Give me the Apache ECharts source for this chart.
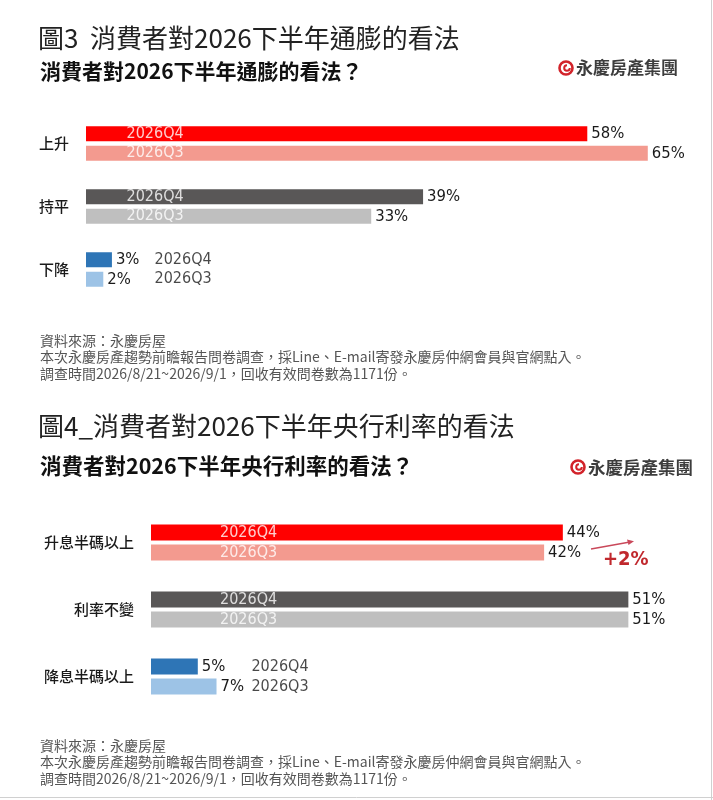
<!DOCTYPE html>
<html>
<head>
<meta charset="utf-8">
<script src="https://cdn.jsdelivr.net/npm/echarts@6/dist/echarts.min.js"></script>
<style>
html,body{margin:0;padding:0;background:#fff;}
#chart{width:713px;height:800px;}
</style>
</head>
<body>
<div id="chart"></div>
<script>
// ---- data ----
const categories1 = ['上升', '持平', '下降'];
const q4Values1 = [58, 39, 3];
const q3Values1 = [65, 33, 2];

const categories2 = ['升息半碼以上', '利率不變', '降息半碼以上'];
const q4Values2 = [44, 51, 5];
const q3Values2 = [42, 51, 7];

const quarterNames = ['2026Q4', '2026Q3'];

const title1 = '圖3  消費者對2026下半年通膨的看法';
const subtitle1 = '消費者對2026下半年通膨的看法？';
const title2 = '圖4_消費者對2026下半年央行利率的看法';
const subtitle2 = '消費者對2026下半年央行利率的看法？';
const logoText = '永慶房產集團';
const footnotes = [
  '資料來源：永慶房屋',
  '本次永慶房產趨勢前瞻報告問卷調查，採Line、E-mail寄發永慶房仲網會員與官網點入。',
  '調查時間2026/8/21~2026/9/1，回收有效問卷數為1171份。'
];
const changeNote = '+2%';

// ---- styles ----
const NUM_FONT = "'Liberation Sans Narrow', 'DejaVu Sans Condensed', 'Noto Sans CJK TC', sans-serif";
const CJK_FONT = "'Noto Sans CJK TC', sans-serif";
const q4Colors = ['#ff0000', '#595757', '#2e75b6'];
const q3Colors = ['#f39a8f', '#bfbfbf', '#9dc3e6'];

const chart = echarts.init(document.getElementById('chart'), null, {renderer: 'canvas'});

const grids = [
  {left: 86, top: 112, width: 605, height: 189},
  {left: 151, top: 509, width: 561.6, height: 201}
];
const axisMax = [70, 60];
const barW = [15, 16];
const barGap = ['30%', '25%'];
const qLabelX = [[4.63, 7.87], [7.32, 10.68]]; // [inside, outside] in axis units

function buildSeries(gi, cats, q4, q3) {
  const out = [];
  const sets = [q4, q3];
  const palettes = [q4Colors, q3Colors];
  const half = (barW[gi] * (1 + parseFloat(barGap[gi]) / 100)) / 2;
  sets.forEach((vals, si) => {
    out.push({
      type: 'bar',
      name: quarterNames[si],
      xAxisIndex: gi, yAxisIndex: gi,
      barWidth: barW[gi],
      barGap: barGap[gi],
      silent: true,
      data: vals.map((v, i) => ({value: v, itemStyle: {color: palettes[si][i]}})),
      label: {
        show: true, position: 'right', distance: 4,
        formatter: '{c}%',
        fontFamily: NUM_FONT, fontSize: 16.5, color: '#1a1a1a'
      }
    });
  });
  sets.forEach((vals, si) => {
    out.push({
      type: 'scatter',
      xAxisIndex: gi, yAxisIndex: gi,
      symbolSize: 1,
      silent: true,
      z: 10,
      itemStyle: {color: 'rgba(0,0,0,0)'},
      data: cats.map((c, i) => ({
        value: [i < 2 ? qLabelX[gi][0] : qLabelX[gi][1], i],
        label: {color: i < 2 ? '#ffffff' : '#1a1a1a'}
      })),
      label: {
        show: true, position: 'right', distance: 0,
        align: 'left', verticalAlign: 'middle',
        offset: [0, si === 0 ? -half : half],
        formatter: quarterNames[si],
        fontFamily: NUM_FONT, fontSize: 16
      }
    });
  });
  return out;
}

const xAxes = grids.map((g, gi) => ({
  gridIndex: gi, type: 'value', min: 0, max: axisMax[gi],
  show: false, splitLine: {show: false}
}));
const yAxes = [categories1, categories2].map((cats, gi) => ({
  gridIndex: gi, type: 'category', data: cats, inverse: true,
  axisLine: {show: false}, axisTick: {show: false},
  axisLabel: {margin: 17, fontFamily: CJK_FONT, fontSize: 15, color: '#1a1a1a', fontWeight: 500}
}));

function logo(x, y, size) {
  return [
    {type: 'circle', shape: {cx: x, cy: y, r: 6.5}, style: {fill: 'none', stroke: '#d2232a', lineWidth: 2.6}},
    {type: 'arc', shape: {cx: x + 1, cy: y, r: 2.8, startAngle: 0, endAngle: Math.PI * 1.5}, style: {fill: 'none', stroke: '#d2232a', lineWidth: 2}},
    {type: 'text', style: {x: x + 10, y: y, text: logoText, fill: '#3d3d3d', font: "bold " + size + "px 'Noto Sans CJK TC', sans-serif", verticalAlign: 'middle', align: 'left'}}
  ];
}

function footnote(y) {
  return {type: 'text', style: {x: 40, y: y, text: footnotes.join('\n'), fill: '#555', font: "14px 'Noto Sans CJK TC', sans-serif", lineHeight: 16.5, verticalAlign: 'top', align: 'left'}};
}

const graphics = [
  {type: 'text', style: {x: 38, y: 38, text: title1, fill: '#222', font: "26px 'Noto Sans CJK TC', sans-serif", verticalAlign: 'middle'}},
  {type: 'text', style: {x: 40, y: 71, text: subtitle1, fill: '#111', font: "bold 21px 'Noto Sans CJK TC', sans-serif", verticalAlign: 'middle'}},
  ...logo(566, 68, 17),
  footnote(332),
  {type: 'text', style: {x: 38, y: 426, text: title2, fill: '#222', font: "26px 'Noto Sans CJK TC', sans-serif", verticalAlign: 'middle'}},
  {type: 'text', style: {x: 40, y: 466, text: subtitle2, fill: '#111', font: "bold 21.5px 'Noto Sans CJK TC', sans-serif", verticalAlign: 'middle'}},
  ...logo(578, 467, 17.5),
  footnote(737),
  // change annotation
  {type: 'line', shape: {x1: 591, y1: 549, x2: 630, y2: 542}, style: {stroke: '#c9485a', lineWidth: 1.3}},
  {type: 'polygon', shape: {points: [[634, 541.3], [627, 539.6], [628.5, 545]]}, style: {fill: '#c9485a'}},
  {type: 'text', style: {x: 603, y: 560, text: changeNote, fill: '#c0282d', font: "bold 20px " + NUM_FONT, verticalAlign: 'middle'}},
  // frame lines
  {type: 'line', shape: {x1: 711.5, y1: 0, x2: 711.5, y2: 800}, style: {stroke: '#d0d0d0', lineWidth: 1}},
  {type: 'line', shape: {x1: 0, y1: 797.5, x2: 713, y2: 797.5}, style: {stroke: '#d0d0d0', lineWidth: 1}}
];

chart.setOption({
  animation: false,
  backgroundColor: '#ffffff',
  grid: grids,
  xAxis: xAxes,
  yAxis: yAxes,
  series: [
    ...buildSeries(0, categories1, q4Values1, q3Values1),
    ...buildSeries(1, categories2, q4Values2, q3Values2)
  ],
  graphic: graphics
});
</script>
</body>
</html>
